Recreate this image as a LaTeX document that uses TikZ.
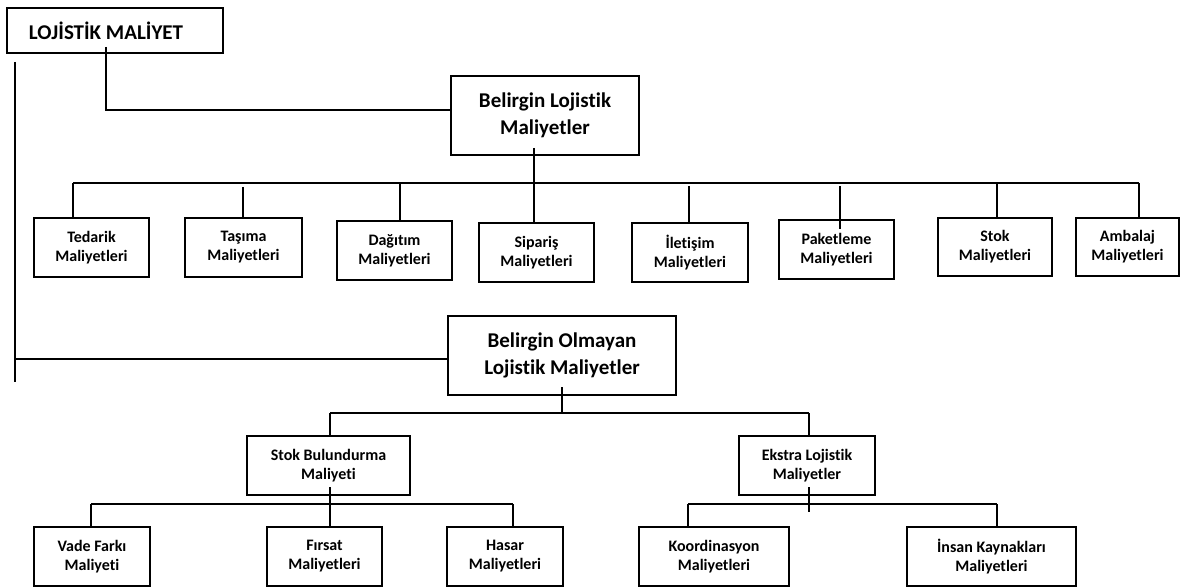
\documentclass[tikz,border=0pt]{standalone}
\usepackage{fontspec}
\setmainfont[Ligatures=NoCommon]{Carlito}
\usepackage{xcolor}
\usepackage{tikz}
\usetikzlibrary{positioning,calc}
\definecolor{ink}{HTML}{000000}
\tikzset{
  box/.style={rectangle, draw=ink, line width=1.6pt, fill=white, anchor=north west,
              align=center, inner sep=0pt, outer sep=0pt, text=ink},
  head/.style={box, font=\bfseries\fontsize{21}{27}\selectfont},
  leaf/.style={box, minimum height=59pt, font=\bfseries\fontsize{16}{19}\selectfont},
  wire/.style={draw=ink, line width=1.5pt}
}

\begin{document}
\begin{tikzpicture}[x=1pt, y=-1pt]
  \useasboundingbox (0,0) rectangle (1197,588);
  % root and the two main groups
  \node[head, minimum width=216pt, minimum height=45pt] (root) at (7,8)
    {\hspace*{-18pt}LOJİSTİK MALİYET};
  \node[head, minimum width=188pt, minimum height=79pt] (bl) at (451,76) {Belirgin Lojistik\\Maliyetler};
  \node[head, minimum width=228pt, minimum height=79pt] (bo) at (448,316) {Belirgin Olmayan\\Lojistik Maliyetler};
  % belirgin children
  \node[leaf, minimum width=115pt] (ted) at (34,218) {Tedarik\\Maliyetleri};
  \node[leaf, minimum width=117pt] (tas) at (185,218) {Taşıma\\Maliyetleri};
  \node[leaf, minimum width=115pt] (dag) at (337,221) {Dağıtım\\Maliyetleri};
  \node[leaf, minimum width=115pt] (sip) at (479,223) {Sipariş\\Maliyetleri};
  \node[leaf, minimum width=116pt] (ile) at (632,223) {İletişim\\Maliyetleri};
  \node[leaf, minimum width=115pt] (pak) at (779,220) {Paketleme\\Maliyetleri};
  \node[leaf, minimum width=114pt, minimum height=58pt] (stk) at (938,218) {Stok\\Maliyetleri};
  \node[leaf, minimum width=103pt, minimum height=58pt] (amb) at (1076,218) {Ambalaj\\Maliyetleri};
  % belirgin olmayan children
  \node[leaf, minimum width=163pt] (sb) at (247,436) {Stok Bulundurma\\Maliyeti};
  \node[leaf, minimum width=136pt] (ek) at (739,436) {Ekstra Lojistik\\Maliyetler};
  \node[leaf, minimum width=116pt] (vade) at (34,527) {Vade Farkı\\Maliyeti};
  \node[leaf, minimum width=115pt] (fir) at (267,527) {Fırsat\\Maliyetleri};
  \node[leaf, minimum width=116pt] (has) at (447,527) {Hasar\\Maliyetleri};
  \node[leaf, minimum width=150pt] (koo) at (639,527) {Koordinasyon\\Maliyetleri};
  \node[leaf, minimum width=169pt] (ins) at (907,527) {İnsan Kaynakları\\Maliyetleri};

  % spine on the left
  \coordinate (spineT) at (15,62);
  \coordinate (spineB) at (15,382);
  \draw[wire] (spineT) -- (spineB);
  \draw[wire] (spineT |- 0,359) -- ([yshift=-3.5pt]bo.west);
  \draw[wire] ([xshift=-9pt,yshift=6pt]root.south) |- ([yshift=5.5pt]bl.west);

  % top bus
  \draw[wire] (73,183) -- (1139,183);
  \draw[wire] (534,148) -- (sip.north -| 534,0);
  \foreach \n/\x/\y in {ted/73/183, tas/243/187, dag/400/183, ile/689/186, stk/997/183, amb/1139/183}
    \draw[wire] (\x,\y) -- (\n.north -| \x,0);
  \draw[wire] (840,186) -- (840,229);

  % lower buses
  \draw[wire] (562,387) -- (562,413);
  \draw[wire] (330,413) -- (809,413);
  \draw[wire] (sb.north -| 330,0) -- (330,413);
  \draw[wire] (ek.north -| 809,0) -- (809,413);
  \draw[wire] (91,504) -- (513,504);
  \draw[wire] (330,487) -- (fir.north -| 330,0);
  \draw[wire] (vade.north -| 91,0) -- (91,504);
  \draw[wire] (has.north -| 513,0) -- (513,504);
  \draw[wire] (688,504) -- (997,504);
  \draw[wire] (809,487) -- (809,512);
  \draw[wire] (koo.north -| 688,0) -- (688,504);
  \draw[wire] (ins.north -| 997,0) -- (997,504);
\end{tikzpicture}
\end{document}
